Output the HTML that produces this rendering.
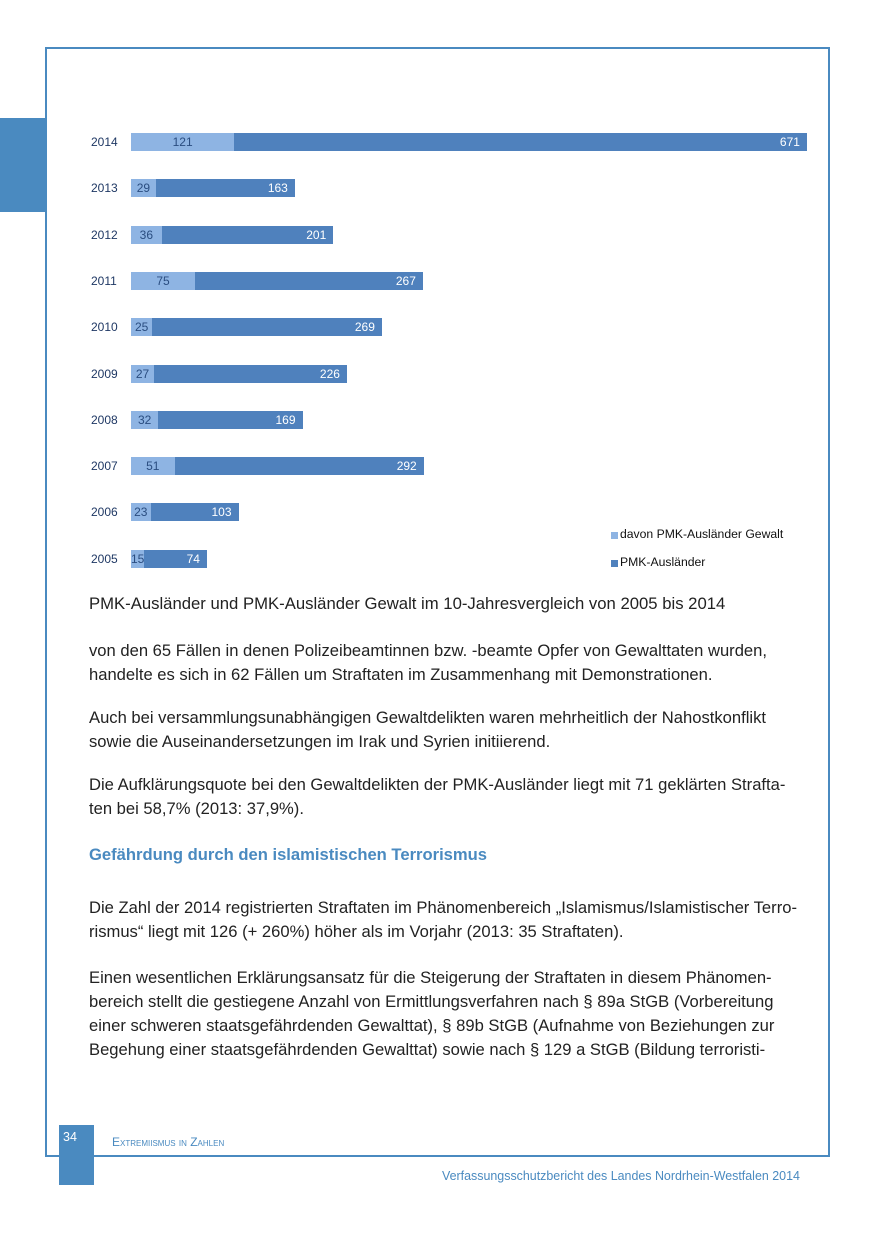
<!DOCTYPE html><html><head><meta charset="utf-8"><style>
body{margin:0;width:875px;height:1241px;position:relative;background:#fff;font-family:"Liberation Sans",sans-serif;overflow:hidden}
.a{position:absolute}
.y{position:absolute;left:91px;font-size:12px;color:#1f3864;line-height:18px}
.b{position:absolute;height:18px;font-size:12px;line-height:18px;color:#fff;white-space:nowrap}
.l{background:#8eb4e3;color:#2a4d80;text-align:center}
.d{background:#4f81bd}
.t{position:absolute;left:89px;font-size:16.6px;color:#222;line-height:24px;white-space:nowrap}
</style></head><body>
<div class="a" style="left:45px;top:47px;width:781px;height:1106px;border:2px solid #4a8ac0"></div>
<div class="a" style="left:0;top:118px;width:45px;height:94px;background:#4a8ac0"></div>
<div class="a" style="left:59px;top:1125px;width:35px;height:60px;background:#4a8ac0;color:#fff;font-size:12.5px;padding:5px 0 0 4px;box-sizing:border-box">34</div>
<div class="a" style="left:112px;top:1135px;font-size:12px;color:#4a8ac0;font-variant:small-caps">Extremiismus in Zahlen</div>
<div class="a" style="left:442px;top:1169px;font-size:12.45px;color:#4a8ac0">Verfassungsschutzbericht des Landes Nordrhein-Westfalen 2014</div>
<div id="c"></div>
<div class="a" style="left:611px;top:532px;width:7px;height:7px;background:#8eb4e3"></div>
<div class="a" style="left:620px;top:527px;font-size:12.2px;color:#111">davon PMK-Ausländer Gewalt</div>
<div class="a" style="left:611px;top:560px;width:7px;height:7px;background:#4f81bd"></div>
<div class="a" style="left:620px;top:555px;font-size:12.2px;color:#111">PMK-Ausländer</div>
<div class="t" style="top:592px;font-size:16.7px">PMK-Ausländer und PMK-Ausländer Gewalt im 10-Jahresvergleich von 2005 bis 2014</div>
<div class="t" style="top:639px">von den 65 Fällen in denen Polizeibeamtinnen bzw. -beamte Opfer von Gewalttaten wurden,<br>handelte es sich in 62 Fällen um Straftaten im Zusammenhang mit Demonstrationen.</div>
<div class="t" style="top:706px">Auch bei versammlungsunabhängigen Gewaltdelikten waren mehrheitlich der Nahostkonflikt<br>sowie die Auseinandersetzungen im Irak und Syrien initiierend.</div>
<div class="t" style="top:773px">Die Aufklärungsquote bei den Gewaltdelikten der PMK-Ausländer liegt mit 71 geklärten Strafta-<br>ten bei 58,7% (2013: 37,9%).</div>
<div class="t" style="top:843px;color:#4a8ac0;font-weight:bold">Gefährdung durch den islamistischen Terrorismus</div>
<div class="t" style="top:896px">Die Zahl der 2014 registrierten Straftaten im Phänomenbereich „Islamismus/Islamistischer Terro-<br>rismus“ liegt mit 126 (+ 260%) höher als im Vorjahr (2013: 35 Straftaten).</div>
<div class="t" style="top:966px">Einen wesentlichen Erklärungsansatz für die Steigerung der Straftaten in diesem Phänomen-<br>bereich stellt die gestiegene Anzahl von Ermittlungsverfahren nach § 89a StGB (Vorbereitung<br>einer schweren staatsgefährdenden Gewalttat), § 89b StGB (Aufnahme von Beziehungen zur<br>Begehung einer staatsgefährdenden Gewalttat) sowie nach § 129 a StGB (Bildung terroristi-</div>
<script>
var d=[[2014,121,671],[2013,29,163],[2012,36,201],[2011,75,267],[2010,25,269],[2009,27,226],[2008,32,169],[2007,51,292],[2006,23,103],[2005,15,74]];
var s=0.8535,h='';
d.forEach(function(r,i){var y=133+i*46.3;var w1=r[1]*s,w2=r[2]*s;
h+='<div class="y" style="top:'+y+'px">'+r[0]+'</div>';
h+='<div class="b l" style="left:131px;top:'+y+'px;width:'+w1+'px">'+r[1]+'</div>';
h+='<div class="b d" style="left:'+(131+w1)+'px;top:'+y+'px;width:'+w2+'px;text-align:right"><span style="padding-right:7px">'+r[2]+'</span></div>';});
document.getElementById('c').innerHTML=h;
</script>
</body></html>
